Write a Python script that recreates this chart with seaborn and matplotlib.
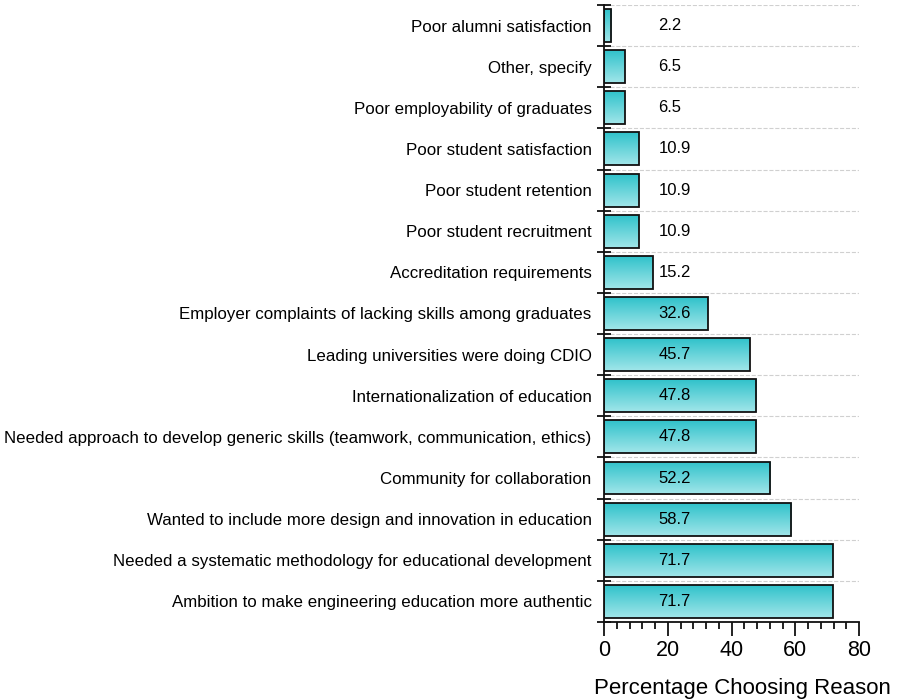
import numpy as np
import pandas as pd
import matplotlib
matplotlib.use("Agg")
import matplotlib.pyplot as plt
import seaborn as sns
from matplotlib.colors import LinearSegmentedColormap
from matplotlib.ticker import MultipleLocator

# Data (top to bottom)
reasons = [
    "Poor alumni satisfaction",
    "Other, specify",
    "Poor employability of graduates",
    "Poor student satisfaction",
    "Poor student retention",
    "Poor student recruitment",
    "Accreditation requirements",
    "Employer complaints of lacking skills among graduates",
    "Leading universities were doing CDIO",
    "Internationalization of education",
    "Needed approach to develop generic skills (teamwork, communication, ethics)",
    "Community for collaboration",
    "Wanted to include more design and innovation in education",
    "Needed a systematic methodology for educational development",
    "Ambition to make engineering education more authentic",
]
percent = [2.2, 6.5, 6.5, 10.9, 10.9, 10.9, 15.2, 32.6, 45.7, 47.8, 47.8, 52.2, 58.7, 71.7, 71.7]

df = pd.DataFrame({"Reason": reasons, "Percent": percent})

sns.set_theme(style="white")
plt.rcParams["font.family"] = ["Liberation Sans", "DejaVu Sans"]
plt.rcParams["text.color"] = "#000000"
plt.rcParams["xtick.color"] = "#000000"
plt.rcParams["ytick.color"] = "#000000"

fig = plt.figure(figsize=(8.99, 7), dpi=100)
ax = fig.add_axes([0.672, 0.1114, 0.2836, 0.8815])

sns.barplot(data=df, x="Percent", y="Reason", orient="h", order=reasons,
            width=0.8, color="#5fd3da", edgecolor="#111111", linewidth=1.3, ax=ax)

# vertical gradient fill inside each bar: darker on top, lighter at bottom
cmap = LinearSegmentedColormap.from_list("teal", ["#2fc2ca", "#a2e6ea"])
grad = np.linspace(0, 1, 256).reshape(-1, 1)
for p in ax.patches:
    x0, y0 = p.get_x(), p.get_y()
    w, h = p.get_width(), p.get_height()
    im = ax.imshow(grad, cmap=cmap, aspect="auto", origin="upper",
                   extent=[x0, x0 + w, y0 + h, y0], zorder=p.get_zorder() - 0.1)
    im.set_clip_path(p)
    p.set_facecolor("none")

for i, v in enumerate(percent):
    ax.text(17, i, f"{v:.1f}", ha="left", va="center", fontsize=12, color="#000000")

ax.set_xlim(0, 80)
ax.set_ylim(len(reasons) - 0.5, -0.5)
ax.set_xlabel("")
ax.set_ylabel("")

# axes styling
for s in ["top", "right"]:
    ax.spines[s].set_visible(False)
for s in ["left", "bottom"]:
    ax.spines[s].set_color("#111111")
    ax.spines[s].set_linewidth(1.3)

ax.xaxis.set_major_locator(MultipleLocator(20))
ax.xaxis.set_minor_locator(MultipleLocator(4))
ax.tick_params(axis="x", which="major", direction="out", length=10, width=1.3,
               color="#111111", labelsize=15.5, pad=3, bottom=True)
ax.tick_params(axis="x", which="minor", direction="out", length=5, width=1.3,
               color="#111111", bottom=True)

ax.set_yticks(np.arange(len(reasons)))
ax.set_yticks(np.arange(len(reasons) + 1) - 0.5, minor=True)
ax.tick_params(axis="y", which="major", length=0, labelsize=12.2, pad=9, left=False)
ax.tick_params(axis="y", which="minor", direction="inout", length=10, width=1.3,
               color="#111111", left=True)
ax.yaxis.grid(True, which="minor", linestyle="--", color="#d0d0d0", linewidth=0.8)
ax.xaxis.grid(False)
ax.set_axisbelow(True)

fig.text(0.826, 0.017, "Percentage Choosing Reason", ha="center", va="center", fontsize=16)

fig.savefig("out.png", dpi=100)
